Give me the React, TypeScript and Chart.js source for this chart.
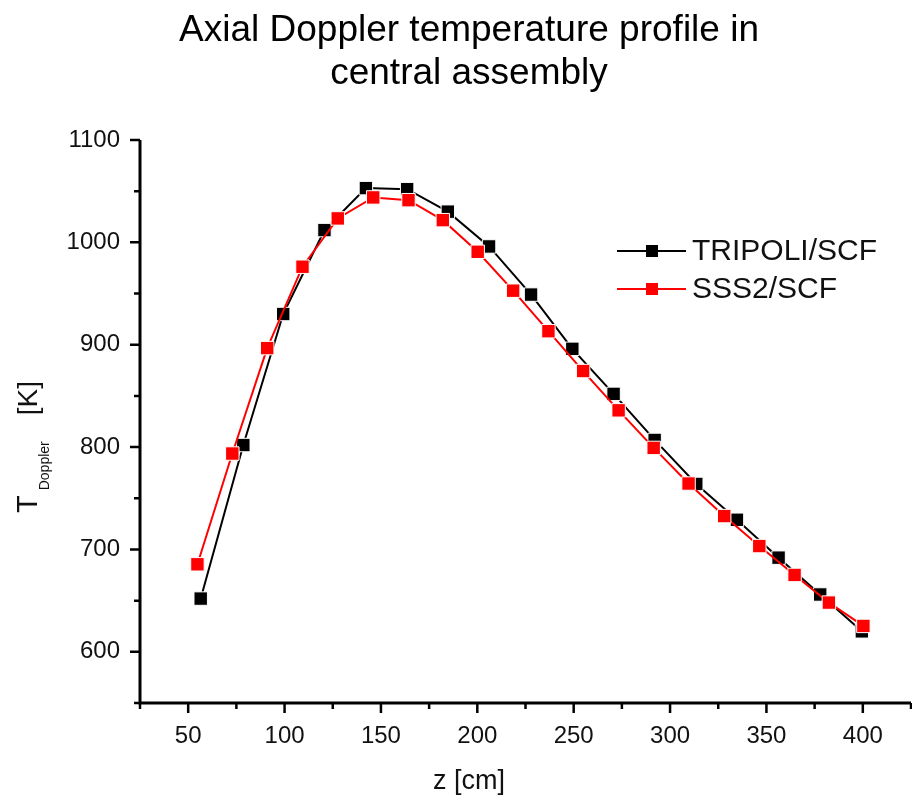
import React, { useEffect, useRef } from "react";
import { Chart, registerables } from "chart.js";

Chart.register(...registerables);

const FONT = "'Liberation Sans', Arial, Helvetica, sans-serif";

const TITLE_LINES = ["Axial Doppler temperature profile in", "central assembly"];
const X_TITLE = "z [cm]";
const Y_TITLE_MAIN = "T";
const Y_TITLE_SUB = "Doppler";
const Y_TITLE_UNIT = "[K]";
const SERIES_LABELS = ["TRIPOLI/SCF", "SSS2/SCF"];
const SERIES_COLORS = ["#000000", "#ff0000"];

const X_MIN = 25;
const X_MAX = 425;
const X_STEP = 25;
const X_LABEL_STEP = 50;
const Y_MIN = 550;
const Y_MAX = 1100;
const Y_STEP = 50;
const Y_LABEL_STEP = 100;

const zTripoli = [56.5, 78.6, 99.3, 120.7, 142.2, 163.6, 184.7, 206.1, 227.9, 249.3, 270.7, 292.0, 313.6, 334.7, 356.3, 377.9, 399.5];
const tTripoli = [652, 802, 930, 1012, 1053, 1052, 1030, 996, 949, 896, 852, 807, 764, 729, 692, 656, 620];

const zSss2 = [54.8, 72.9, 91.0, 109.3, 127.6, 146.0, 164.3, 182.1, 200.2, 218.6, 236.9, 254.9, 273.3, 291.5, 309.6, 328.1, 346.3, 364.6, 382.4, 400.3];
const tSss2 = [685.5, 793.7, 896.7, 976.2, 1023.4, 1043.9, 1041.2, 1021.7, 990.8, 952.8, 913.2, 874.3, 835.9, 799.2, 764.4, 732.6, 703.3, 675.1, 648.1, 625.3];

const toPoints = (xs: number[], ys: number[]) => xs.map((x, i) => ({ x, y: ys[i] }));

export default function App() {
  const ref = useRef<HTMLCanvasElement | null>(null);

  useEffect(() => {
    document.body.style.margin = "0";
    const canvas = ref.current;
    if (!canvas) return;

    const axesPlugin = {
      id: "axesDecor",
      beforeDatasetsDraw(chart: any) {
        const { ctx, chartArea, scales } = chart;
        const xs = scales.x;
        const ys = scales.y;
        ctx.save();
        ctx.strokeStyle = "#000";
        ctx.lineCap = "butt";
        ctx.lineWidth = 3;
        ctx.beginPath();
        ctx.moveTo(chartArea.left, chartArea.top);
        ctx.lineTo(chartArea.left, chartArea.bottom + 1.5);
        ctx.moveTo(chartArea.left - 1.5, chartArea.bottom);
        ctx.lineTo(chartArea.right, chartArea.bottom);
        ctx.stroke();
        ctx.lineWidth = 2.5;
        ctx.beginPath();
        ys.ticks.forEach((t: any) => {
          const py = ys.getPixelForValue(t.value);
          const len = t.value % Y_LABEL_STEP === 0 ? 10 : 6;
          ctx.moveTo(chartArea.left, py);
          ctx.lineTo(chartArea.left - len, py);
        });
        xs.ticks.forEach((t: any) => {
          const px = xs.getPixelForValue(t.value);
          const len = t.value % X_LABEL_STEP === 0 ? 10 : 6;
          ctx.moveTo(px, chartArea.bottom);
          ctx.lineTo(px, chartArea.bottom + len);
        });
        ctx.stroke();
        ctx.restore();
      },
      afterDraw(chart: any) {
        const { ctx } = chart;
        ctx.save();
        ctx.fillStyle = "#000";
        // title
        ctx.font = `37px ${FONT}`;
        ctx.textAlign = "center";
        ctx.textBaseline = "alphabetic";
        ctx.fillText(TITLE_LINES[0], 469, 41);
        ctx.fillText(TITLE_LINES[1], 469, 84);

        // x title
        ctx.font = `27px ${FONT}`;
        ctx.fillStyle = "#111";
        ctx.fillText(X_TITLE, 469, 789);

        // y title (rotated)
        ctx.save();
        ctx.translate(37, 513);
        ctx.rotate(-Math.PI / 2);
        ctx.textAlign = "left";
        ctx.font = `29px ${FONT}`;
        ctx.fillText(Y_TITLE_MAIN, 0, 0);
        const wT = ctx.measureText(Y_TITLE_MAIN).width;
        ctx.font = `14px ${FONT}`;
        ctx.fillText(Y_TITLE_SUB, wT + 5, 12);
        const wS = ctx.measureText(Y_TITLE_SUB).width;
        ctx.font = `28px ${FONT}`;
        ctx.fillText(Y_TITLE_UNIT, wT + 5 + wS + 26, 0);
        ctx.restore();

        // legend
        chart.data.datasets.forEach((ds: any, i: number) => {
          const cy = 251 + i * 38;
          ctx.strokeStyle = ds.borderColor;
          ctx.lineWidth = 2;
          ctx.beginPath();
          ctx.moveTo(617, cy);
          ctx.lineTo(686, cy);
          ctx.stroke();
          ctx.fillStyle = ds.backgroundColor;
          ctx.fillRect(646, cy - 6, 12, 12);
          ctx.fillStyle = "#111";
          ctx.font = `30px ${FONT}`;
          ctx.textAlign = "left";
          ctx.textBaseline = "middle";
          ctx.fillText(ds.label, 692, cy + 1);
        });
        ctx.restore();
      },
    };

    const chart = new Chart(canvas, {
      type: "line",
      data: {
        datasets: [
          {
            label: SERIES_LABELS[0],
            data: toPoints(zTripoli, tTripoli),
            borderColor: SERIES_COLORS[0],
            backgroundColor: SERIES_COLORS[0],
            pointBackgroundColor: SERIES_COLORS[0],
            pointBorderColor: "#ffffff",
            pointBorderWidth: 1,
            pointStyle: "rect",
            pointRadius: 9.5,
            borderWidth: 2,
            tension: 0,
            order: 1,
          },
          {
            label: SERIES_LABELS[1],
            data: toPoints(zSss2, tSss2),
            borderColor: SERIES_COLORS[1],
            backgroundColor: SERIES_COLORS[1],
            pointBackgroundColor: SERIES_COLORS[1],
            pointBorderColor: "#ffffff",
            pointBorderWidth: 1,
            pointStyle: "rect",
            pointRadius: 9.5,
            borderWidth: 2,
            tension: 0,
            order: 0,
          },
        ],
      },
      options: {
        responsive: false,
        animation: false,
        devicePixelRatio: 1,
        layout: { autoPadding: false, padding: { top: 140, right: 1, left: 0, bottom: 0 } },
        plugins: {
          legend: { display: false },
          title: { display: false },
          tooltip: { enabled: false },
        },
        scales: {
          x: {
            type: "linear",
            min: X_MIN,
            max: X_MAX,
            grid: { display: false, drawTicks: false },
            border: { display: false },
            ticks: {
              stepSize: X_STEP,
              autoSkip: false,
              maxRotation: 0,
              padding: 19,
              color: "#111",
              font: { family: FONT, size: 24 },
              callback: (v: any) => (Number(v) % X_LABEL_STEP === 0 ? String(v) : ""),
            },
            afterFit: (s: any) => {
              s.height = 95;
              s.paddingLeft = 0;
              s.paddingRight = 0;
            },
          },
          y: {
            type: "linear",
            min: Y_MIN,
            max: Y_MAX,
            grid: { display: false, drawTicks: false },
            border: { display: false },
            ticks: {
              stepSize: Y_STEP,
              autoSkip: false,
              padding: 20,
              color: "#111",
              font: { family: FONT, size: 24 },
              callback: (v: any) => (Number(v) % Y_LABEL_STEP === 0 ? String(v) : ""),
            },
            afterFit: (s: any) => {
              s.width = 140;
              s.paddingTop = 0;
              s.paddingBottom = 0;
            },
          },
        },
      },
      plugins: [axesPlugin],
    } as any);

    return () => chart.destroy();
  }, []);

  return (
    <div style={{ position: "absolute", left: 0, top: 0, width: 912, height: 798, background: "#fff" }}>
      <canvas ref={ref} width={912} height={798} style={{ display: "block" }} />
    </div>
  );
}
